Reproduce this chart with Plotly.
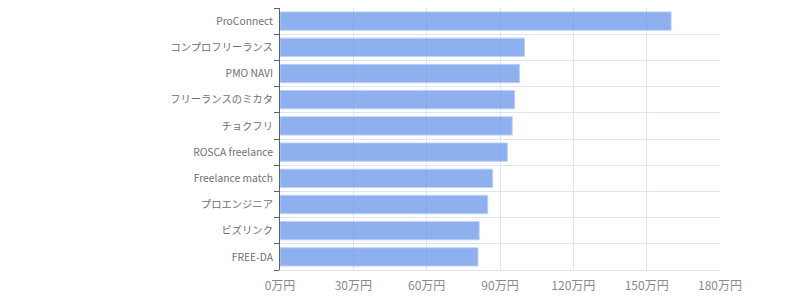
import plotly.graph_objects as go

services = ["ProConnect", "コンプロフリーランス", "PMO NAVI", "フリーランスのミカタ", "チョクフリ",
            "ROSCA freelance", "Freelance match", "プロエンジニア", "ビズリンク", "FREE-DA"]
values = [160, 100, 98, 96, 95, 93, 87, 85, 81.5, 81]
x_ticks = [0, 30, 60, 90, 120, 150, 180]
x_labels = [f"{v}万円" for v in x_ticks]

fig = go.Figure(go.Bar(
    x=values, y=services, orientation="h",
    marker=dict(color="rgba(100,145,232,0.72)",
                line=dict(color="rgba(190,208,245,0.9)", width=1)),
    width=0.7,
))

grid = "#dfe5f2"
fig.update_layout(
    width=800, height=300,
    margin=dict(l=280, r=80, t=8, b=30),
    paper_bgcolor="white", plot_bgcolor="white",
    font=dict(family="Noto Sans CJK JP, sans-serif", color="#666"),
    showlegend=False,
    xaxis=dict(range=[0, 180], tickvals=x_ticks, ticktext=x_labels,
               showgrid=True, gridcolor=grid, gridwidth=1, zeroline=False,
               showline=True, linecolor=grid, linewidth=1, ticks="",
               tickfont=dict(size=12, color="#8a8a8a"), ticklabelstandoff=5),
    yaxis=dict(type="category", categoryorder="array", categoryarray=services[::-1],
               tickson="boundaries", showgrid=True, gridcolor=grid, gridwidth=1,
               showline=True, linecolor="#55607a", linewidth=1,
               ticks="outside", ticklen=5, tickcolor="#55607a",
               tickfont=dict(size=10.3, color="#707070"), ticklabelstandoff=4),
)

fig.write_html("out.html")
